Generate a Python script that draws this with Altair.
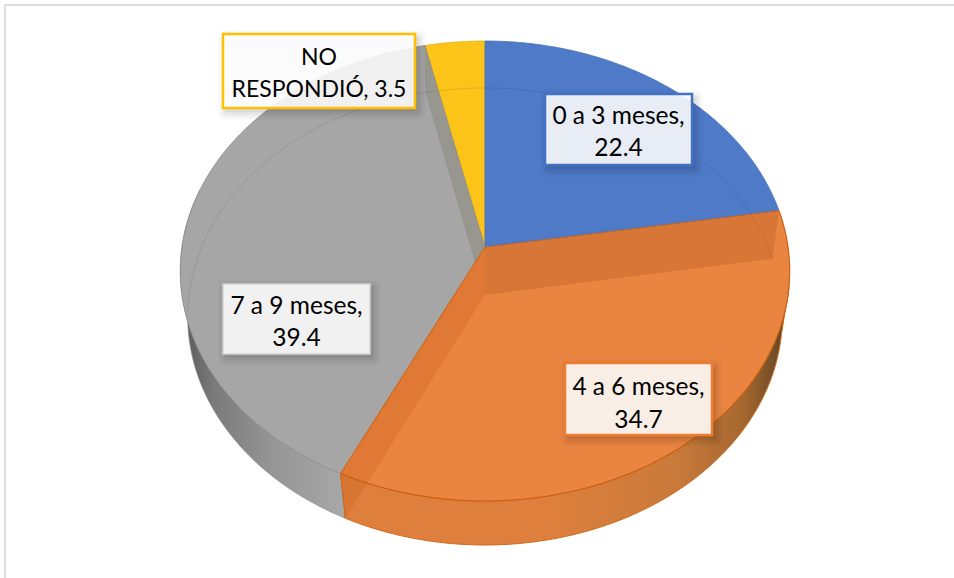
import math

import altair as alt
import pandas as pd

# Survey shares, clockwise from twelve o'clock
categories = ["0 a 3 meses", "4 a 6 meses", "7 a 9 meses", "NO RESPONDIÓ"]
shares = [22.4, 34.7, 39.4, 3.5]
label_lines = [
    ["0 a 3 meses,", "22.4"],
    ["4 a 6 meses,", "34.7"],
    ["7 a 9 meses,", "39.4"],
    ["NO", "RESPONDIÓ, 3.5"],
]

W, H = 954, 578
FILLS = ["#4e7ac7", "#ea8541", "#a6a6a6", "#fcc419"]
EDGES = ["#4a72ba", "#cf6a1f", "#8e8e8e", "#e0ac10"]

# Perspective disc: upper and lower rims of the tilted pie
TOP = dict(cx=485, cy=247, a=303, b=227.5, k=0.1044)
BOT = dict(cx=485, cy=295, a=296, b=226.5, k=0.094)

# Label boxes: left, top, right, bottom, border colour, border width, first-line offset, font size
BOXES = [
    (545, 94, 692, 165, "#4472c4", 2.5, -13, 24.5),
    (565, 363, 712, 435, "#ed7d31", 2.5, -11, 24.5),
    (223, 284, 370, 354, "#d4d4d4", 1.5, -12.5, 24.5),
    (223, 34, 415, 108, "#ffc000", 2.5, -13.5, 23),
]


def project(rim, deg):
    t = math.radians(deg)
    u, v = math.sin(t), math.cos(t)
    d = 1 + rim["k"] * v
    return rim["cx"] + rim["a"] * u / d, rim["cy"] - rim["b"] * v / d


def arc(rim, start, end, steps=90):
    return [project(rim, start + (end - start) * i / steps) for i in range(steps + 1)]


def base():
    return dict(
        x=alt.X("x:Q", scale=alt.Scale(domain=[0, W], nice=False, zero=False), axis=None),
        y=alt.Y("y:Q", scale=alt.Scale(domain=[H, 0], nice=False, zero=False), axis=None),
        order=alt.Order("i:Q"),
    )


def poly(points, fill, stroke=None, stroke_width=1.0, fill_opacity=1.0, stroke_opacity=1.0):
    """A closed filled outline drawn through the shared pixel scales."""
    pts = list(points) + [points[0]]
    df = pd.DataFrame({"x": [p[0] for p in pts], "y": [p[1] for p in pts], "i": range(len(pts))})
    kw = dict(fill=fill, fillOpacity=fill_opacity, strokeJoin="round", interpolate="linear", clip=False)
    if stroke:
        kw.update(stroke=stroke, strokeWidth=stroke_width, strokeOpacity=stroke_opacity)
    else:
        kw.update(strokeWidth=0)
    return alt.Chart(df).mark_line(**kw).encode(**base())


def path(points, stroke, width=1.0, opacity=1.0):
    df = pd.DataFrame({"x": [p[0] for p in points], "y": [p[1] for p in points], "i": range(len(points))})
    return alt.Chart(df).mark_line(stroke=stroke, strokeWidth=width, opacity=opacity).encode(**base())


def gradient(stops):
    return alt.Gradient(
        gradient="linear", x1=0, x2=1, y1=0, y2=0,
        stops=[alt.GradientStop(offset=o, color=c) for o, c in stops],
    )


# Cumulative slice boundaries in degrees
edges = [0.0]
for s in shares:
    edges.append(edges[-1] + s * 3.6)

layers = []

# Outer walls of the grey and orange slices, lit from the front
grey_wall = arc(TOP, edges[2], 285) + arc(BOT, 285, edges[2])
orange_wall = arc(TOP, 100, edges[2]) + arc(BOT, edges[2], 100)
layers.append(poly(grey_wall, gradient([(0, "#575757"), (0.2, "#7a7a7a"), (0.55, "#959595"), (1, "#a8a8a8")]),
                   stroke="#8a8a8a", stroke_opacity=0.7))
layers.append(poly(orange_wall, gradient([(0, "#df7f3d"), (0.45, "#df7f3d"), (0.75, "#c97a3b"),
                                          (0.9, "#a5672f"), (1, "#5a4224")]),
                   stroke="#cf6a1f"))

# Top faces, with the orange slice painted last so it covers the inner wall behind it
apex = (TOP["cx"], TOP["cy"])
apex_low = (BOT["cx"], BOT["cy"])
for idx in (2, 3, 0):
    layers.append(poly([apex] + arc(TOP, edges[idx], edges[idx + 1]), FILLS[idx],
                       stroke=EDGES[idx], stroke_opacity=0.8))

# Cut face of the grey slice, seen beside the yellow one
layers.append(poly([apex, project(TOP, edges[3]), project(BOT, edges[3]), apex_low],
                   "#97978f", stroke="#8c8c86", stroke_opacity=0.5))

layers.append(poly([apex] + arc(TOP, edges[1], edges[2]), FILLS[1]))

# Lower rim seen through the translucent top
layers.append(path(arc(BOT, edges[2] + 60, edges[4] + edges[1], 240), "#000000", 1, 0.09))

# Cut faces of the orange slice
layers.append(poly([apex, project(TOP, edges[1]), project(BOT, edges[1]), apex_low],
                   "#b85f26", fill_opacity=0.38))
layers.append(poly([apex, project(TOP, edges[2]), project(BOT, edges[2]), apex_low],
                   "#c9601a", fill_opacity=0.3))

# Rim outlines over the walls
layers.append(path(arc(TOP, edges[1], edges[2]), "#c9620f", 1.2))
layers.append(path([apex, project(TOP, edges[2]), project(BOT, edges[2])], "#cf6a1f", 1.2))
layers.append(path([apex, project(TOP, edges[1])], "#b5602a", 1, 0.8))

# Chart frame
layers.append(alt.Chart(pd.DataFrame({"a": [0]})).mark_rule(color="#dcdcdc", strokeWidth=2).encode(
    x=alt.value(5), y=alt.value(5), y2=alt.value(H)))
layers.append(alt.Chart(pd.DataFrame({"a": [0]})).mark_rule(color="#dcdcdc", strokeWidth=2).encode(
    x=alt.value(5), x2=alt.value(W), y=alt.value(5)))


def box_rect(x0, y0, x1, y1, **mark):
    return alt.Chart(pd.DataFrame({"a": [0]})).mark_rect(**mark).encode(
        x=alt.value(x0), x2=alt.value(x1), y=alt.value(y0), y2=alt.value(y1))


# Data labels with soft shadows
for (x0, y0, x1, y1, col, sw, dy, size), lines in zip(BOXES, label_lines):
    for grow, alpha in ((8, 0.02), (6, 0.025), (4, 0.03), (2, 0.035), (0, 0.04)):
        layers.append(box_rect(x0 + 3 - grow, y0 + 4 - grow, x1 + 3 + grow, y1 + 4 + grow,
                               color="#000000", opacity=alpha, cornerRadius=grow))
    layers.append(box_rect(x0, y0, x1, y1, fill="#ffffff", fillOpacity=0.88, stroke=col, strokeWidth=sw))
    layers.append(
        alt.Chart(pd.DataFrame({"t": [lines]})).mark_text(
            font="Lato", fontSize=size, color="#000000", align="center", baseline="middle", lineHeight=32.5
        ).encode(
            x=alt.value((x0 + x1) / 2), y=alt.value((y0 + y1) / 2 + dy), text="t"
        )
    )

chart = alt.layer(*layers).properties(
    width=W, height=H, padding=0, autosize=alt.AutoSizeParams(type="none"), background="#ffffff"
).configure_view(stroke=None)

chart.save("out.html", embed_options={"renderer": "svg", "actions": False})
